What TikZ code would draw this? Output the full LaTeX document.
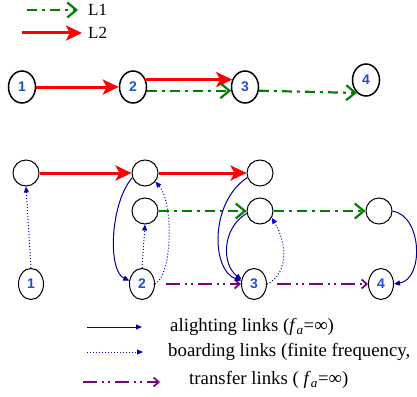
\documentclass[tikz,border=0pt]{standalone}
\usepackage{fontspec}
\setmainfont{Liberation Serif}
\newfontfamily\numfont{Liberation Sans}
\usetikzlibrary{arrows.meta,shapes.geometric}
\definecolor{numblue}{RGB}{30,80,210}
\definecolor{lgreen}{RGB}{0,128,0}
\definecolor{lpurple}{RGB}{128,0,128}
\definecolor{navy}{RGB}{0,0,150}
\definecolor{bblue}{RGB}{0,0,205}
\tikzset{
  topnode/.style={ellipse,draw=black,line width=1.5pt,minimum width=27pt,minimum height=32pt,inner sep=0pt,font=\numfont\bfseries\fontsize{14}{14}\selectfont,text=numblue},
  stopnode/.style={ellipse,draw=black,line width=1pt,minimum width=25pt,minimum height=31pt,inner sep=0pt,font=\numfont\bfseries\fontsize{14}{14}\selectfont,text=numblue},
  routenode/.style={circle,draw=black,line width=1pt,minimum size=26pt,inner sep=0pt},
  redarr/.style={draw=red,line width=3pt,-{Stealth[length=16pt,width=15pt,inset=4pt]}},
  greenarr/.style={draw=lgreen,line width=2.2pt,dash pattern=on 10pt off 5pt on 3pt off 5pt,-{Straight Barb[length=9pt,width=15pt,line width=2.2pt]}},
  purparr/.style={draw=lpurple,line width=2pt,dash pattern=on 14pt off 5pt on 2pt off 4pt on 2pt off 5pt,-{Straight Barb[length=5pt,width=9pt,line width=1.8pt]}},
  alight/.style={draw=navy,line width=1pt,-{Triangle[length=6pt,width=5pt]}},
  board/.style={draw=bblue,line width=1pt,dotted,-{Triangle[length=6pt,width=5pt]}},
  legtext/.style={anchor=west,inner sep=0pt,font=\fontsize{18.8}{22}\selectfont},
}
\begin{document}
\begin{tikzpicture}[x=1pt,y=-1pt]
\useasboundingbox (0,0) rectangle (417,396);
% top legend
\coordinate (g1a) at (27,10); \coordinate (g1b) at (78,10);
\coordinate (r1a) at (22,33); \coordinate (r1b) at (82,33);
\draw[greenarr] (g1a) -- (g1b);
\draw[redarr] (r1a) -- (r1b);
\node[legtext,font=\fontsize{17}{20}\selectfont] (tL1) at (88,10) {L1};
\node[legtext,font=\fontsize{17}{20}\selectfont] (tL2) at (88,33) {L2};
% top network
\node[topnode] (n1) at (22,87) {1};
\node[topnode] (n2) at (133,87) {2};
\node[topnode] (n3) at (245,87) {3};
\node[topnode] (n4) at (366,80) {4};
\draw[redarr] (n1.east) -- (n2.west);
\draw[redarr] (n2.30) -- (n3.150);
\draw[greenarr] (n2.-15) -- (n3.195);
\draw[greenarr] (n3.-15) -- (n4.235);
% bottom network
\node[routenode] (R1) at (26,173) {};
\node[routenode] (A2) at (145,173) {};
\node[routenode] (B2) at (145,211) {};
\node[routenode] (A3) at (260,173) {};
\node[routenode] (B3) at (260,211) {};
\node[routenode] (B4) at (379,211) {};
\node[stopnode] (S1) at (31,284) {1};
\node[stopnode] (S2) at (142,284) {2};
\node[stopnode] (S3) at (254,284) {3};
\node[stopnode] (S4) at (381,284) {4};
\draw[redarr] (R1.east) -- (A2.west);
\draw[redarr] (A2.east) -- (A3.west);
\draw[greenarr] (B2.east) -- (B3.west);
\draw[greenarr] (B3.east) -- (B4.west);
\draw[purparr,shorten <=11pt] (S2.east) -- (S3.west);
\draw[purparr,shorten <=10pt] (S3.east) -- (S4.west);
% alighting
\draw[alight] (A2.200) .. controls +(-22,25) and +(-22,-10) .. (S2.165);
\draw[alight] (A3.200) .. controls +(-38,25) and +(-30,-10) .. (S3.165);
\draw[alight] (B3.190) .. controls +(-25,15) and +(-20,-15) .. (S3.160);
\draw[alight] (B4.east) .. controls +(30,5) and +(30,-5) .. (S4.east);
% boarding
\draw[board] (S1.north) -- (R1.south);
\draw[board] (S2.north) -- (B2.south);
\draw[board] (S2.east) .. controls +(18,-10) and +(18,20) .. (A2.-40);
\draw[board] (S3.east) .. controls +(22,-10) and +(15,25) .. (B3.-30);
% bottom legend
\coordinate (la1) at (87,327); \coordinate (la2) at (142,327);
\coordinate (lb1) at (87,352); \coordinate (lb2) at (143,352);
\coordinate (lc1) at (83,382); \coordinate (lc2) at (160,382);
\draw[alight] (la1) -- (la2);
\draw[board] (lb1) -- (lb2);
\draw[purparr] (lc1) -- (lc2);
\node[legtext] (ta) at (170,327) {alighting links (\textit{f}\textsubscript{\textit{a}}=∞)};
\node[legtext] (tb) at (168,352) {boarding links (finite frequency,};
\node[legtext] (tc) at (189,380) {transfer links ( \textit{f}\textsubscript{\textit{a}}=∞)};
\end{tikzpicture}
\end{document}
